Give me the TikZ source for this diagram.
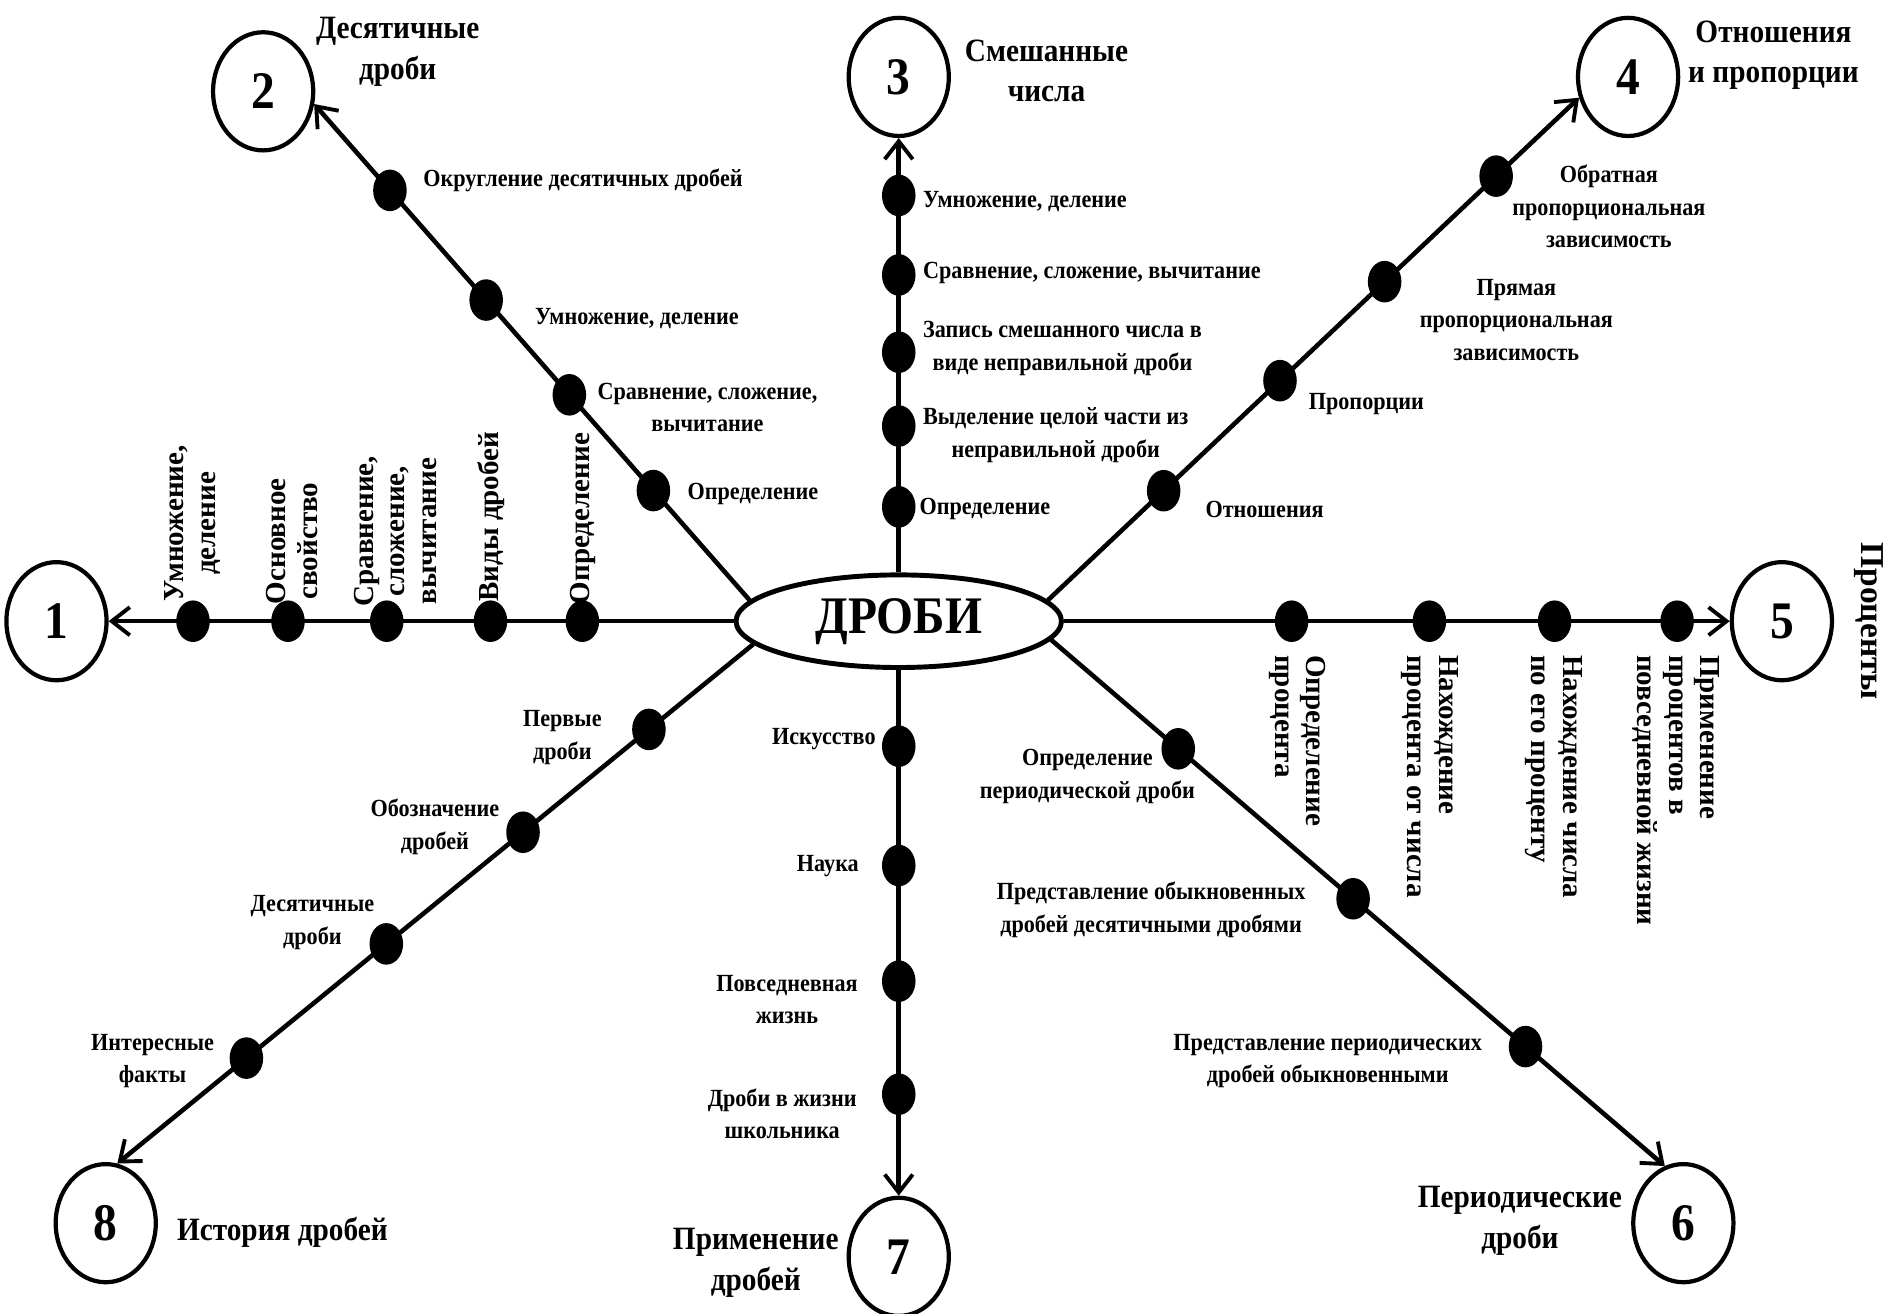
\documentclass[tikz,border=0pt]{standalone}
\usepackage{fontspec}
\setmainfont{Liberation Serif}[FakeStretch=0.9]
\newfontfamily\rotfont{Liberation Serif}
\usetikzlibrary{arrows.meta,shapes.geometric,positioning}

\begin{document}
\begin{tikzpicture}[x=0.024cm,y=-0.024cm,
  spoke/.style={line width=2.6pt},
  tip/.style={-{Straight Barb[length=3.6mm,width=5.6mm,line width=2.2pt]}},
  dot/.style={ellipse,fill=black,minimum width=6.7mm,minimum height=8.3mm,inner sep=0pt},
  num/.style={ellipse,draw,line width=2.4pt,minimum width=2cm,minimum height=2.36cm,inner sep=0pt,
    font=\fontsize{30}{30}\selectfont\bfseries},
  lbl/.style={font=\fontsize{14}{18.5}\selectfont\bfseries,align=center,inner sep=0pt},
  vlbl/.style={font=\rotfont\bfseries\fontsize{16.5}{18}\selectfont,align=center,inner sep=0pt},
  ttl/.style={font=\fontsize{18.5}{23}\selectfont\bfseries,align=center,inner sep=0pt}]
\useasboundingbox (0,0) rectangle (1568,1093);

% centre and the eight topics
\node[ellipse,draw,line width=2.8pt,minimum width=6.5cm,minimum height=1.85cm,inner sep=0pt,
  font=\fontsize{30}{30}\selectfont\bfseries] (core) at (748,517) {ДРОБИ};
\node[num] (c1) at (47,517) {1};
\node[num] (c2) at (219,76) {2};
\node[num] (c3) at (748,64) {3};
\node[num] (c4) at (1355,64) {4};
\node[num] (c5) at (1483,517) {5};
\node[num] (c6) at (1401,1018) {6};
\node[num] (c7) at (748,1046) {7};
\node[num] (c8) at (88,1018) {8};

\draw[spoke,tip] (core.west) -- (c1.east);
\draw[spoke,tip] (core.172) -- (c2.-14);
\draw[spoke,tip] (core.north) -- (c3.south);
\draw[spoke,tip] (core.8) -- (c4.203);
\draw[spoke,tip] (core.east) -- (c5.west);
\draw[spoke,tip] (core.-7) -- (c6.108);
\draw[spoke,tip] (core.south) -- (c7.north);
\draw[spoke,tip] (core.189) -- (c8.79);

% stops on each line
\foreach \p [count=\i] in {.242,.389,.555,.713,.865}
  \path (core.west) -- (c1.east) node[dot,pos=\p] (da\i) {};
\foreach \p [count=\i] in {.221,.414,.605,.826}
  \path (core.172) -- (c2.-14) node[dot,pos=\p] (db\i) {};
\foreach \p [count=\i] in {.151,.337,.507,.685,.868}
  \path (core.north) -- (c3.south) node[dot,pos=\p] (dc\i) {};
\foreach \p [count=\i] in {.218,.437,.634,.844}
  \path (core.8) -- (c4.203) node[dot,pos=\p] (dd\i) {};
\foreach \p [count=\i] in {.342,.549,.737,.921}
  \path (core.east) -- (c5.west) node[dot,pos=\p] (de\i) {};
\foreach \p [count=\i] in {.207,.492,.773}
  \path (core.-7) -- (c6.108) node[dot,pos=\p] (df\i) {};
\foreach \p [count=\i] in {.145,.372,.592,.807}
  \path (core.south) -- (c7.north) node[dot,pos=\p] (dg\i) {};
\foreach \p [count=\i] in {.164,.362,.577,.797}
  \path (core.189) -- (c8.79) node[dot,pos=\p] (dh\i) {};

% 1
\node[vlbl,rotate=90,anchor=west] (ta1) at (485,503) {Определение};
\node[vlbl,rotate=90,anchor=west] (ta2) at (409,501) {Виды дробей};
\node[vlbl,rotate=90,anchor=west] (ta3) at (329,505) {Сравнение,\\сложение,\\вычитание};
\node[vlbl,rotate=90,anchor=west] (ta4) at (243,503) {Основное\\свойство};
\node[vlbl,rotate=90,anchor=west] (ta5) at (160,501) {Умножение,\\деление};

% 2
\node[ttl] (n2) at (331,43) {Десятичные\\дроби};
\node[lbl,anchor=west] (tb1) at (572,411) {Определение};
\node[lbl,anchor=west] (tb2) at (497,339) {Сравнение, сложение,\\вычитание};
\node[lbl,anchor=west] (tb3) at (445,265) {Умножение, деление};
\node[lbl,anchor=west] (tb4) at (352,150) {Округление десятичных дробей};

% 3
\node[ttl] (n3) at (871,59) {Смешанные\\числа};
\node[lbl,anchor=west] (tc1) at (765,424) {Определение};
\node[lbl,anchor=west] (tc2) at (768,362) {Выделение целой части из\\неправильной дроби};
\node[lbl,anchor=west] (tc3) at (768,290) {Запись смешанного числа в\\виде неправильной дроби};
\node[lbl,anchor=west] (tc4) at (768,227) {Сравнение, сложение, вычитание};
\node[lbl,anchor=west] (tc5) at (768,168) {Умножение, деление};

% 4
\node[ttl] (n4) at (1476,46) {Отношения\\и пропорции};
\node[lbl,anchor=west] (td1) at (1003,424) {Отношения};
\node[lbl,anchor=west] (td2) at (1089,336) {Пропорции};
\node[lbl] (td3) at (1262,266) {Прямая\\пропорциональная\\зависимость};
\node[lbl] (td4) at (1339,172) {Обратная\\пропорциональная\\зависимость};

% 5
\node[ttl,font=\rotfont\bfseries\fontsize{19}{23}\selectfont,rotate=-90] (n5) at (1555,517) {Проценты};
\node[vlbl,rotate=-90,anchor=west,align=left] (te1) at (1080,545) {Определение\\процента};
\node[vlbl,rotate=-90,anchor=west,align=left] (te2) at (1190,545) {Нахождение\\процента от числа};
\node[vlbl,rotate=-90,anchor=west,align=left] (te3) at (1293,545) {Нахождение числа\\по его проценту};
\node[vlbl,rotate=-90,anchor=west,align=left] (te4) at (1395,545) {Применение\\процентов в\\повседневной жизни};

% 6
\node[ttl] (n6) at (1265,1016) {Периодические\\дроби};
\node[lbl] (tf1) at (905,646) {Определение\\периодической дроби};
\node[lbl] (tf2) at (958,757) {Представление обыкновенных\\дробей десятичными дробями};
\node[lbl] (tf3) at (1105,883) {Представление периодических\\дробей обыкновенными};

% 7
\node[ttl] (n7) at (629,1051) {Применение\\дробей};
\node[lbl,anchor=east] (tg1) at (729,615) {Искусство};
\node[lbl,anchor=east] (tg2) at (715,721) {Наука};
\node[lbl] (tg3) at (655,832) {Повседневная\\жизнь};
\node[lbl] (tg4) at (651,927) {Дроби в жизни\\школьника};

% 8
\node[ttl] (n8) at (235,1026) {История дробей};
\node[lbl] (th1) at (468,614) {Первые\\дроби};
\node[lbl] (th2) at (362,688) {Обозначение\\дробей};
\node[lbl] (th3) at (260,768) {Десятичные\\дроби};
\node[lbl] (th4) at (127,883) {Интересные\\факты};
\end{tikzpicture}
\end{document}
